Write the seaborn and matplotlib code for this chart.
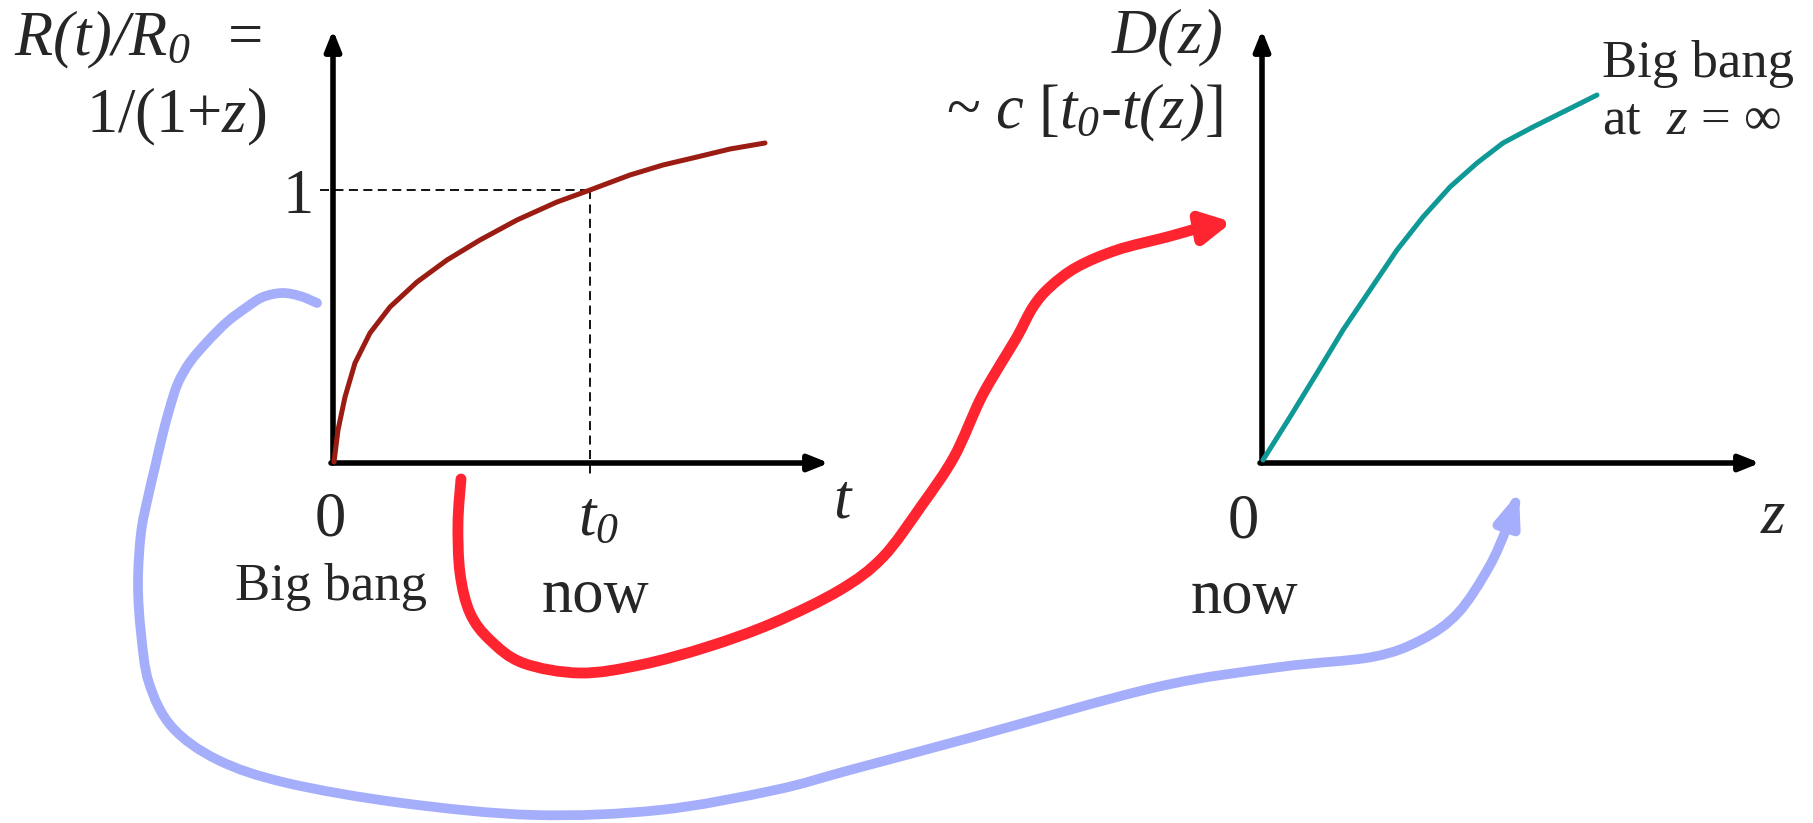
import numpy as np
import matplotlib
matplotlib.use("Agg")
import matplotlib.pyplot as plt
import seaborn as sns
from matplotlib.path import Path
from matplotlib.patches import FancyArrowPatch

# ============ Data (canvas pixel coords, y down) ============

# R(t)/R0 curve, left panel
SCALE_T = [334, 338, 345, 355, 370, 390, 417, 447, 480, 517, 557, 590, 630, 663, 697, 730, 765]
SCALE_R = [462, 430, 397, 363, 333, 307, 282, 260, 240, 220, 202, 190, 175, 165, 157, 149, 143]

# D(z) curve, right panel
DIST_Z = [1263, 1290, 1317, 1343, 1370, 1397, 1423, 1450, 1477, 1503, 1533, 1567, 1597]
DIST_D = [460, 417, 373, 330, 290, 250, 217, 187, 163, 143, 127, 110, 95]

# red arrow: t -> D(z)
RED_X = [461, 458, 460, 470, 490, 523, 580, 640, 707, 773, 840, 883, 922, 954,
         980, 1000, 1017, 1033, 1050, 1077, 1117, 1167, 1200, 1232]
RED_Y = [479, 523, 573, 613, 640, 663, 673, 665, 647, 623, 590, 557, 505, 457,
         400, 365, 337, 307, 287, 267, 250, 237, 228, 222]

# blue arrow: R(t) -> z
BLUE_X = [317, 300, 282, 263, 247, 227, 207, 190, 178, 170, 162, 155, 148, 141,
          138, 141, 149, 172, 218, 287, 402, 534, 660, 775, 850, 973, 1157, 1280,
          1372, 1421, 1458, 1489, 1507, 1519]
BLUE_Y = [303, 296, 293, 297, 307, 322, 342, 362, 383, 407, 437, 467, 497, 533,
          583, 633, 683, 727, 760, 783, 803, 815, 810, 790, 770, 737, 687, 667,
          657, 640, 613, 567, 527, 492]

T_NOW = (590, 190)

# ============ Style ============
sns.set_style("white")
plt.rcParams['font.family'] = ['Liberation Serif', 'DejaVu Serif']
plt.rcParams['mathtext.fontset'] = 'custom'
plt.rcParams['mathtext.rm'] = 'Liberation Serif:italic'
plt.rcParams['mathtext.it'] = 'Liberation Serif:italic'

DARK_RED = '#9a1c12'
TEAL = '#0e9996'
RED = '#ff2530'
BLUE = '#a5aefb'
AXIS_LW = 4.0


def smooth_path(xs, ys):
    """Catmull-Rom through the points, as cubic Bezier segments."""
    p = np.column_stack([xs, ys]).astype(float)
    pad = np.vstack([p[0], p, p[-1]])
    verts = [p[0]]
    codes = [Path.MOVETO]
    for i in range(1, len(pad) - 2):
        p0, p1, p2, p3 = pad[i - 1], pad[i], pad[i + 1], pad[i + 2]
        verts += [p1 + (p2 - p0) / 6, p2 - (p3 - p1) / 6, p2]
        codes += [Path.CURVE4] * 3
    return Path(verts, codes)


def axis_arrow(ax, start, end):
    ax.annotate('', xy=end, xytext=start,
                arrowprops=dict(arrowstyle='-|>,head_length=0.6,head_width=0.24',
                                lw=AXIS_LW, color='black', mutation_scale=20,
                                shrinkA=0, shrinkB=0))


fig = plt.figure(figsize=(18.13, 8.23), dpi=100)
ax = fig.add_axes([0, 0, 1, 1])
ax.set_xlim(0, 1813)
ax.set_ylim(823, 0)
ax.axis('off')

# curved arrows behind everything
ax.add_patch(FancyArrowPatch(path=smooth_path(BLUE_X, BLUE_Y),
                             arrowstyle='-|>,head_length=0.72,head_width=0.28',
                             mutation_scale=25, lw=7.0, color=BLUE,
                             joinstyle='round', zorder=1))
ax.add_patch(FancyArrowPatch(path=smooth_path(RED_X, RED_Y),
                             arrowstyle='-|>,head_length=0.68,head_width=0.36',
                             mutation_scale=25, lw=7.8, color=RED,
                             joinstyle='round', zorder=1))

# axes of both panels
axis_arrow(ax, (333, 463), (333, 30))
axis_arrow(ax, (331, 463), (829, 463))
axis_arrow(ax, (1262, 463), (1262, 30))
axis_arrow(ax, (1260, 463), (1760, 463))

# dashed guides at t0
ax.plot([320, T_NOW[0]], [T_NOW[1], T_NOW[1]], color='black', lw=1.3, ls=(0, (5, 3)))
ax.plot([T_NOW[0], T_NOW[0]], [T_NOW[1], 478], color='black', lw=1.3, ls=(0, (5, 3)))

# curves
sns.lineplot(x=SCALE_T, y=SCALE_R, sort=False, estimator=None, color=DARK_RED,
             lw=3.6, ax=ax, zorder=3)
sns.lineplot(x=DIST_Z, y=DIST_D, sort=False, estimator=None, color=TEAL,
             lw=3.6, ax=ax, zorder=3)

# ============ Text ============
BIG = 45
MID = 38
ax.text(14, 55, r'$R(t)/R_0$', fontsize=BIG, va='baseline', ha='left')
ax.text(228, 55, '=', fontsize=BIG, va='baseline', ha='left')
ax.text(266, 132, r'1/(1+$z$)', fontsize=BIG, va='baseline', ha='right')
ax.text(298, 213, '1', fontsize=BIG, va='baseline', ha='center')
ax.text(330, 535, '0', fontsize=BIG, va='baseline', ha='center')
ax.text(331, 600, 'Big bang', fontsize=MID, va='baseline', ha='center')
ax.text(598, 535, r'$t_0$', fontsize=BIG, va='baseline', ha='center')
ax.text(595, 612, 'now', fontsize=BIG, va='baseline', ha='center')
ax.text(843, 517, r'$t$', fontsize=BIG, va='baseline', ha='center')

ax.text(1223, 53, r'$D(z)$', fontsize=BIG, va='baseline', ha='right')
ax.text(1223, 128, r'~ $c$ [$t_0$-$t(z)$]', fontsize=BIG, va='baseline', ha='right')
ax.text(1602, 77, 'Big bang', fontsize=MID, va='baseline', ha='left')
ax.text(1602, 133, r'at  $z$ = ∞', fontsize=MID, va='baseline', ha='left')
ax.text(1243, 537, '0', fontsize=BIG, va='baseline', ha='center')
ax.text(1244, 613, 'now', fontsize=BIG, va='baseline', ha='center')
ax.text(1773, 533, r'$z$', fontsize=BIG, va='baseline', ha='center')

fig.savefig('out.png', dpi=100, facecolor='white')
